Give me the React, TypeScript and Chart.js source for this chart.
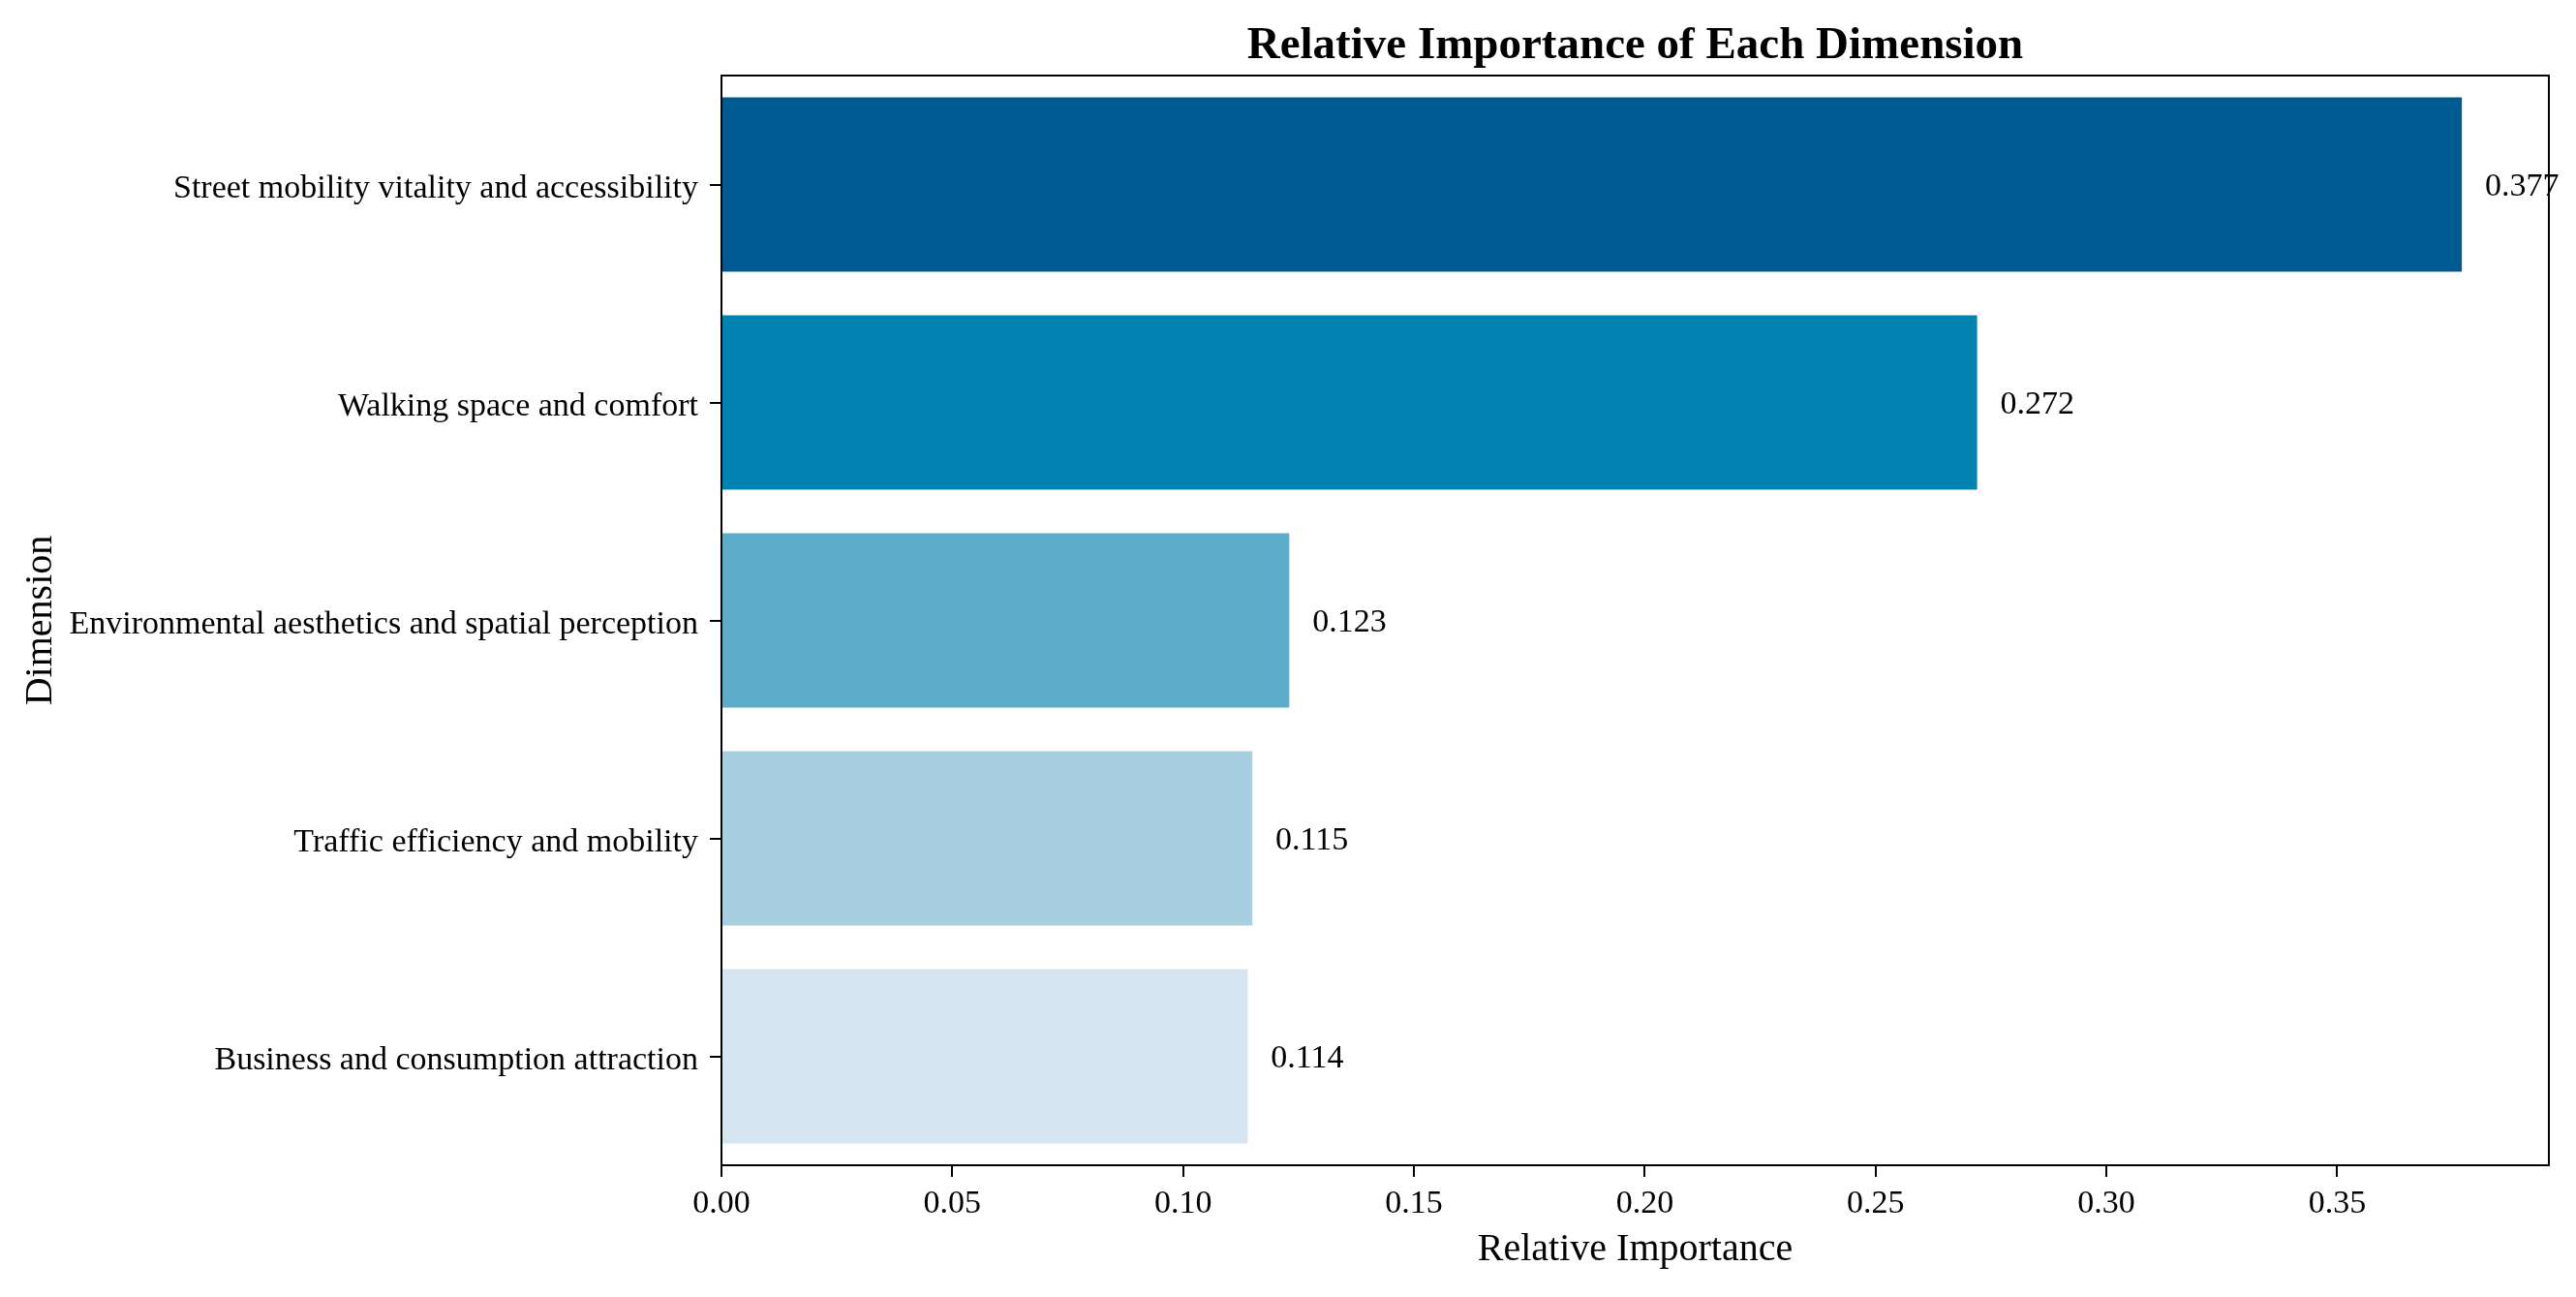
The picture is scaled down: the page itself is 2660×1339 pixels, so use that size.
import React, { useEffect, useRef } from "react";
import { Chart, registerables } from "chart.js";

Chart.register(...registerables);

const categories = [
  "Street mobility vitality and accessibility",
  "Walking space and comfort",
  "Environmental aesthetics and spatial perception",
  "Traffic efficiency and mobility",
  "Business and consumption attraction",
];
const values = [0.377, 0.272, 0.123, 0.115, 0.114];
const barColors = ["#005a92", "#0083b3", "#5cacca", "#a8cfe0", "#d5e6f1"];
const xTickStep = 0.05;
const titleText = "Relative Importance of Each Dimension";
const xTitle = "Relative Importance";
const yTitle = "Dimension";

const FONT = '"Liberation Serif", "Times New Roman", Times, serif';
const W = 2660;
const H = 1339;

export default function App() {
  const ref = useRef<HTMLCanvasElement | null>(null);

  useEffect(() => {
    document.body.style.margin = "0";
    const canvas = ref.current;
    if (!canvas) return;

    const decor = {
      id: "decor",
      afterDraw(chart: any) {
        const { ctx, chartArea: a, scales } = chart;
        const xs = scales.x;
        const ys = scales.y;
        ctx.save();
        // top and right spines
        ctx.strokeStyle = "#000";
        ctx.lineWidth = 2;
        ctx.beginPath();
        ctx.moveTo(a.left, a.top);
        ctx.lineTo(a.right, a.top);
        ctx.lineTo(a.right, a.bottom);
        ctx.stroke();

        ctx.fillStyle = "#000";
        ctx.font = `34px ${FONT}`;
        ctx.textBaseline = "middle";

        // category tick labels
        ctx.textAlign = "right";
        const labels: string[] = ys.getLabels();
        labels.forEach((lab, i) => {
          ctx.fillText(lab, a.left - 12 - 12, ys.getPixelForValue(i) + 5);
        });

        // value labels
        ctx.textAlign = "left";
        values.forEach((v, i) => {
          ctx.fillText(v.toFixed(3), xs.getPixelForValue(v + 0.005), ys.getPixelForValue(i) + 3);
        });

        const cx = (a.left + a.right) / 2;
        ctx.textAlign = "center";
        ctx.textBaseline = "alphabetic";
        ctx.font = `bold 47px ${FONT}`;
        ctx.fillText(titleText, cx, 60);

        ctx.font = `40px ${FONT}`;
        ctx.fillText(xTitle, cx, 1301);

        ctx.translate(53, (a.top + a.bottom) / 2);
        ctx.rotate(-Math.PI / 2);
        ctx.fillText(yTitle, 0, 0);
        ctx.restore();
      },
    };

    const chart = new Chart(canvas, {
      type: "bar",
      data: {
        labels: categories,
        datasets: [
          {
            data: values,
            backgroundColor: barColors,
            borderWidth: 0,
            barPercentage: 0.8,
            categoryPercentage: 1.0,
          },
        ],
      },
      options: {
        indexAxis: "y",
        responsive: false,
        animation: false,
        devicePixelRatio: 1,
        layout: { padding: { top: 78, right: 28, left: 0, bottom: 0 } },
        plugins: {
          legend: { display: false },
          tooltip: { enabled: false },
          title: { display: false },
        },
        scales: {
          x: {
            type: "linear",
            min: 0,
            max: Math.max(...values) * 1.05,
            afterFit(scale: any) {
              scale.height = 136;
            },
            ticks: {
              stepSize: xTickStep,
              includeBounds: false,
              color: "#000",
              padding: 8,
              font: { family: FONT, size: 34 },
              callback: (v: any) => Number(v).toFixed(2),
            },
            grid: {
              drawOnChartArea: false,
              drawTicks: true,
              tickLength: 12,
              color: "#000",
              lineWidth: 2,
            },
            border: { display: true, color: "#000", width: 2 },
          },
          y: {
            type: "category",
            offset: true,
            afterFit(scale: any) {
              scale.width = 745;
            },
            ticks: {
              display: false,
            },
            grid: {
              offset: false,
              drawOnChartArea: false,
              drawTicks: true,
              tickLength: 12,
              color: "#000",
              lineWidth: 2,
            },
            border: { display: true, color: "#000", width: 2 },
          },
        },
      },
      plugins: [decor],
    } as any);

    return () => chart.destroy();
  }, []);

  return (
    <div style={{ position: "absolute", left: 0, top: 0, width: W, height: H, background: "#fff" }}>
      <canvas ref={ref} width={W} height={H} style={{ width: W, height: H, display: "block" }} />
    </div>
  );
}
